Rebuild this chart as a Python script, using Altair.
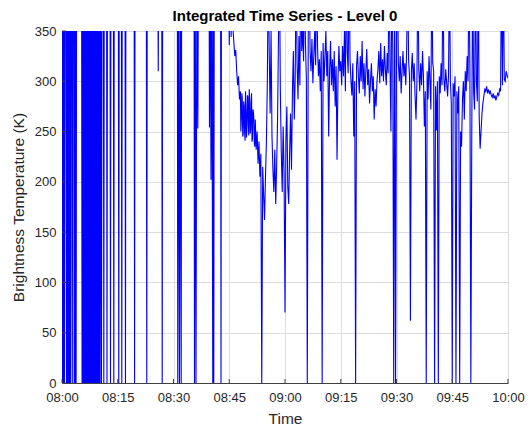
import altair as alt
import pandas as pd

H = 420  # off-scale high readings (clipped at the top of the axes)

# ---- early, mostly off-scale period: dropouts to 0 (minutes after 08:00)
early_t = [
    0.00, 0.13, 0.27, 0.40, 0.54, 0.67, 0.80, 1.08, 1.21, 1.35, 1.48, 1.62, 1.75, 1.89,
    2.02, 2.16, 2.29, 2.42, 2.64, 2.77, 2.90, 3.15, 3.28, 3.42, 3.55, 3.68, 3.80, 3.93,
    5.27, 5.40, 5.53, 5.67, 5.80, 5.94, 6.07, 6.21, 6.34, 6.48, 6.61, 6.75, 6.88, 7.02,
    7.15, 7.29, 7.42, 7.56, 7.69, 7.83, 7.96, 8.10, 8.23, 8.37, 8.50, 8.64, 8.77, 8.91,
    9.04, 9.18, 9.31, 9.45, 9.58, 9.72, 9.85, 9.99, 10.12, 10.26, 10.39,
    10.63, 10.76, 11.13, 11.25, 11.37, 11.99, 12.11, 12.23, 12.93, 13.05, 13.17,
    13.82, 13.94, 14.06, 15.16, 15.28, 15.40, 15.97, 16.09, 16.21, 16.96, 17.08, 17.20,
    19.41, 19.53, 19.65, 22.69, 22.81, 22.93, 25.78, 25.90, 26.02, 26.84, 26.96, 27.08,
    31.03, 31.15, 31.38, 31.61, 31.84, 32.07, 32.19,
    35.53, 35.65, 35.85, 36.05, 36.30, 36.55, 36.70,
    39.56, 39.68, 39.88, 40.09, 40.30, 40.57, 40.70, 40.84, 40.97,
    42.66, 42.78, 42.90, 44.88,
]
early_v = [
    H, 0, H, 0, H, 0, H, H, 0, H, 0, H, 0, H,
    0, H, 0, H, H, 0, H, H, 0, H, 0, H, 0, H,
    H, 0, H, 0, H, 0, H, 0, H, 0, H, 0, H, 0,
    H, 0, H, 0, H, 0, H, 0, H, 0, H, 0, H, 0,
    H, 0, H, 0, H, 0, H, 0, H, 0, H,
    0, H, H, 0, H, H, 0, H, H, 0, H,
    H, 0, H, H, 0, H, H, 0, H, H, 0, H,
    H, 0, H, H, 0, H, H, 310, H, H, 0, H,
    H, 0, H, 0, H, 0, H,
    H, 0, H, 0, H, 253, H,
    H, 254, H, 202, H, 0, H, 0, H,
    H, 0, H, H,
]

# ---- main period, sampled every 0.25 min from 08:45
main_start = 45.0
main_step = 0.25
main_v = [
    336, H, 344, 400, 352, 338, 325, 331, 310, 296, 305, 282, 290, 262, 284, 248, 276, 241, 270, 252,
    285, 246, 281, 252, 288, 243, 270, 238, 262, 232, 250, 218, 240, 205, 228, 0, 215, 188, 162, 205,
    240, 300, H, 330, 268, 350, 245, 212, 190, 232, 178, 215, 262, 345, H, 290, 230, 190, 255, 210,
    70, 240, 275, 195, 178, 230, 268, 212, 290, 330, 262, 305, H, 318, 282, 345, 296, H, 330, 352,
    320, H, 338, 302, 0, 345, H, 330, 310, 342, 298, 325, 350, 316, H, 335, 305, 322, 290, 330,
    0, 338, 300, 325, 350, 305, 330, 245, 310, 340, 296, 322, 290, 330, 275, 315, 222, 300, 335, 310,
    320, 296, 335, 305, 350, 290, H, 330, 308, H, 322, 300, 286, 318, 245, 300, 0, 315, 330, 305,
    288, 325, 300, 340, 292, 318, 285, 310, 332, 296, 312, 278, 300, 318, 290, 305, 262, 292, 275, 300,
    312, 330, 298, 338, 305, 322, 300, 335, 312, 296, 328, 308, H, 318, 250, H, 330, 0, H, 0,
    342, H, 318, 300, 325, 288, 310, 330, 305, 318, 296, 335, H, 322, 305, 62, 310, 328, 300, 318,
    285, 262, 300, H, 312, 290, 318, 296, 330, 305, 255, 290, 0, 310, 282, 325, 300, 272, H, 318,
    310, 0, 295, 251, 300, 0, 305, 288, 318, 296, H, 302, 290, 312, 298, 285, 306, H, 300, 278,
    0, 298, 285, 305, 0, 290, 268, 295, 0, 250, 235, 282, 300, 262, 310, 290, 325, 300, H, 312,
    0, 245, H, 290, 272, H, 300, 280, H, 265, 233, 250, 268, 278, 285, 292, 290, 295, 288, 292,
    288, 290, 286, 284, 288, 283, 286, 281, 285, 288, 286, 292, 290, H, 296, H, 302, 300, 310, 306, 303,
]

# ---- extra in-between samples in the dense 08:48-08:52 cluster
blob_t = [48.125, 48.375, 48.625, 48.875, 49.125, 49.375, 49.625, 49.875,
          50.125, 50.375, 50.625, 50.875, 51.125, 51.375, 51.625, 51.875]
blob_v = [250, 288, 245, 280, 250, 290, 244, 286, 258, 292, 248, 278, 240, 272, 262, 235]

xtick_vals = [0, 15, 30, 45, 60, 75, 90, 105, 120]
xtick_labels = ["08:00", "08:15", "08:30", "08:45", "09:00", "09:15", "09:30", "09:45", "10:00"]
ytick_vals = [0, 50, 100, 150, 200, 250, 300, 350]

main_t = [round(main_start + main_step * i, 2) for i in range(len(main_v))]
df = pd.DataFrame({"t": early_t + main_t + blob_t, "v": early_v + main_v + blob_v})

FONT = "Liberation Sans"
TXT = "#262626"
AX = "#404040"
GRID = "#dcdcdc"

label_expr = "[" + ",".join("'%s'" % s for s in xtick_labels) + "][round(datum.value/15)]"

X_ENC = alt.X(
    "t:Q",
    scale=alt.Scale(domain=[0, 120], nice=False, zero=False),
    axis=alt.Axis(
        values=xtick_vals, labelExpr=label_expr, title="Time",
        grid=True, gridColor=GRID, gridWidth=1,
        ticks=False, tickSize=0, labelPadding=8, titlePadding=7,
        labelFont=FONT, titleFont=FONT, labelFontSize=13, titleFontSize=15.5,
        labelColor=TXT, titleColor=TXT, titleFontWeight="normal",
        domainColor=AX, domainWidth=1, labelFlush=False, labelOverlap=False,
    ),
)
Y_ENC = alt.Y(
    "v:Q",
    scale=alt.Scale(domain=[0, 350], nice=False),
    axis=alt.Axis(
        values=ytick_vals, title="Brightness Temperature (K)",
        grid=True, gridColor=GRID, gridWidth=1,
        ticks=False, tickSize=0, labelPadding=6, titlePadding=8,
        labelFont=FONT, titleFont=FONT, labelFontSize=13, titleFontSize=15.5,
        labelColor=TXT, titleColor=TXT, titleFontWeight="normal",
        domainColor=AX, domainWidth=1, labelFlush=False, labelOverlap=False,
    ),
)

line = alt.Chart(df).mark_line(color="#0000ff", strokeWidth=1.1, clip=True).encode(
    x=X_ENC, y=Y_ENC
)

xticks = alt.Chart(pd.DataFrame({"t": xtick_vals})).mark_rule(color=AX, strokeWidth=1).encode(
    x=X_ENC,
    y=alt.value(352),
    y2=alt.value(348),
)
yticks = alt.Chart(pd.DataFrame({"v": ytick_vals})).mark_rule(color=AX, strokeWidth=1).encode(
    y=Y_ENC,
    x=alt.value(0),
    x2=alt.value(4),
)

chart = alt.layer(line, xticks, yticks).properties(
    width=446,
    height=352,
    padding={"left": 62, "top": 31, "right": 24, "bottom": 43},
    autosize=alt.AutoSizeParams(type="none"),
    background="white",
    title=alt.TitleParams(
        "Integrated Time Series - Level 0",
        font=FONT, fontSize=15, fontWeight="bold", color="#000000",
        anchor="middle", frame="group", offset=9, dy=20, baseline="alphabetic",
    ),
).configure_view(stroke="transparent")

chart.save("out.html", embed_options={"renderer": "svg", "actions": False})
